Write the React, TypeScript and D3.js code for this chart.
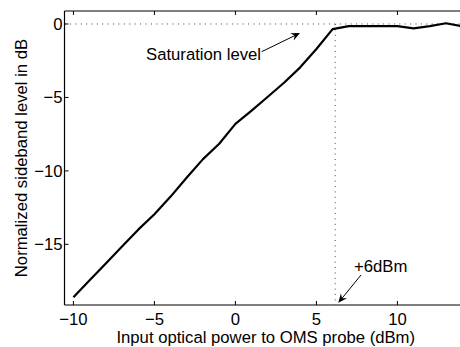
import React from "react";
import * as d3 from "d3";

const powerDbm = [-10, -9, -8, -7, -6, -5, -4, -3, -2, -1, 0, 1, 2, 3, 4, 5, 6, 7, 8, 9, 10, 11, 12, 13, 14];
const sidebandDb = [-18.6, -17.45, -16.3, -15.15, -14.0, -12.95, -11.75, -10.45, -9.2, -8.15, -6.8, -5.9, -4.95, -4.0, -2.95, -1.7, -0.35, -0.15, -0.15, -0.15, -0.15, -0.3, -0.15, 0.05, -0.15];
const xTicks = [-10, -5, 0, 5, 10];
const yTicks = [0, -5, -10, -15];
const saturationX = 6.16;

const W = 460;
const H = 347;
const FONT = "'Liberation Sans', Arial, Helvetica, sans-serif";
const FS = 16.7;

export default function App() {
  const x = d3.scaleLinear().domain([-10.55, 14]).range([64.5, 64.5 + 16.2 * 24.55]);
  const y = d3.scaleLinear().domain([-19.13, 0.885]).range([305, 11]);
  const line = d3
    .line<number>()
    .x((_, i) => x(powerDbm[i]))
    .y((d) => y(d));
  const fmt = (v: number) => (v < 0 ? "\u2212" + Math.abs(v) : String(v));
  const left = x.range()[0];
  const right = x.range()[1];
  const top = y.range()[1];
  const bottom = y.range()[0];

  const arrowHead = (x1: number, y1: number, x2: number, y2: number) => {
    const a = Math.atan2(y2 - y1, x2 - x1);
    const L = 9;
    const Wd = 4;
    const bx = x2 - L * Math.cos(a);
    const by = y2 - L * Math.sin(a);
    const nx = -Math.sin(a);
    const ny = Math.cos(a);
    const mx = x2 - L * 0.65 * Math.cos(a);
    const my = y2 - L * 0.65 * Math.sin(a);
    return `M${x2},${y2}L${bx + nx * Wd},${by + ny * Wd}L${mx},${my}L${bx - nx * Wd},${by - ny * Wd}Z`;
  };

  return (
    <svg
      width={W}
      height={H}
      style={{ position: "absolute", left: 0, top: 0, background: "#fff" }}
      fontFamily={FONT}
    >
      <rect x={0} y={0} width={W} height={H} fill="#fff" />
      {/* dotted reference lines */}
      <line x1={left} x2={right} y1={y(0)} y2={y(0)} stroke="#444" strokeWidth={1} strokeDasharray="1 4.4" />
      <line x1={x(saturationX)} x2={x(saturationX)} y1={y(0)} y2={bottom} stroke="#444" strokeWidth={1} strokeDasharray="1 4.4" />
      {/* data line */}
      <path d={line(sidebandDb) || ""} fill="none" stroke="#000" strokeWidth={2.2} strokeLinejoin="round" />
      {/* axes */}
      <line x1={left} x2={W + 5} y1={top} y2={top} stroke="#000" strokeWidth={1.2} />
      <line x1={left} x2={W + 5} y1={bottom} y2={bottom} stroke="#000" strokeWidth={1.2} />
      <line x1={left} x2={left} y1={top} y2={bottom} stroke="#000" strokeWidth={1.2} />
      {xTicks.map((t) => (
        <g key={"x" + t}>
          <line x1={x(t)} x2={x(t)} y1={bottom} y2={bottom - 4} stroke="#000" strokeWidth={1} />
          <line x1={x(t)} x2={x(t)} y1={top} y2={top + 4} stroke="#000" strokeWidth={1} />
          <text x={x(t)} y={325} textAnchor="middle" fontSize={FS}>
            {fmt(t)}
          </text>
        </g>
      ))}
      {yTicks.map((t) => (
        <g key={"y" + t}>
          <line x1={left} x2={left + 4} y1={y(t)} y2={y(t)} stroke="#000" strokeWidth={1} />
          <text x={left - 2} y={y(t) + 6} textAnchor="end" fontSize={FS}>
            {fmt(t)}
          </text>
        </g>
      ))}
      <text x={(left + 413) / 2 + 27} y={343} textAnchor="middle" fontSize={FS}>
        Input optical power to OMS probe (dBm)
      </text>
      <text
        transform={`translate(27,${(top + bottom) / 2}) rotate(-90)`}
        textAnchor="middle"
        fontSize={FS}
      >
        Normalized sideband level in dB
      </text>
      {/* annotations */}
      <text x={146} y={60} fontSize={FS}>
        Saturation level
      </text>
      <line x1={261.7} y1={51.7} x2={296} y2={35} stroke="#000" strokeWidth={1} />
      <path d={arrowHead(261.7, 51.7, 300, 33)} fill="#000" />
      <text x={354} y={272} fontSize={FS}>
        +6dBm
      </text>
      <line x1={361} y1={275} x2={341} y2={299.5} stroke="#000" strokeWidth={1} />
      <path d={arrowHead(361, 275, 338.3, 302.7)} fill="#000" />
    </svg>
  );
}
